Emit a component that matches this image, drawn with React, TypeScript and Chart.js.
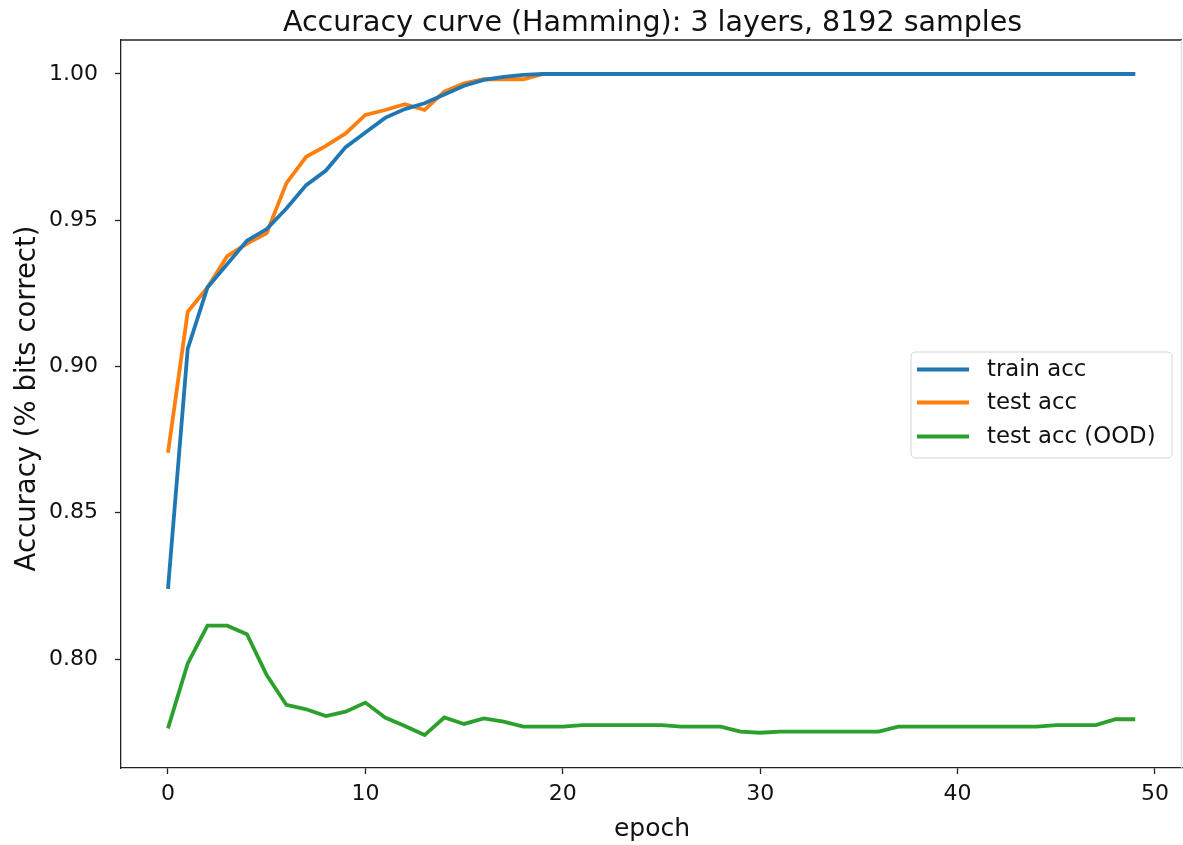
import React, { useEffect, useRef } from "react";
import { Chart, registerables } from "chart.js";

Chart.register(...registerables);

const TITLE = "Accuracy curve (Hamming): 3 layers, 8192 samples";
const X_LABEL = "epoch";
const Y_LABEL = "Accuracy (% bits correct)";

const epochs = [
  0, 1, 2, 3, 4, 5, 6, 7, 8, 9, 10, 11, 12, 13, 14, 15, 16, 17, 18, 19, 20, 21, 22, 23, 24,
  25, 26, 27, 28, 29, 30, 31, 32, 33, 34, 35, 36, 37, 38, 39, 40, 41, 42, 43, 44, 45, 46, 47, 48, 49,
];

const trainAcc = [
  0.824, 0.906, 0.927, 0.935, 0.943, 0.947, 0.954, 0.962, 0.967, 0.975, 0.98, 0.985, 0.988, 0.99,
  0.993, 0.996, 0.998, 0.999, 0.9997, 1.0, 1.0, 1.0, 1.0, 1.0, 1.0, 1.0, 1.0, 1.0, 1.0, 1.0, 1.0,
  1.0, 1.0, 1.0, 1.0, 1.0, 1.0, 1.0, 1.0, 1.0, 1.0, 1.0, 1.0, 1.0, 1.0, 1.0, 1.0, 1.0, 1.0, 1.0,
];

const testAcc = [
  0.8705, 0.9187, 0.927, 0.9377, 0.942, 0.9456, 0.9627, 0.9717, 0.9754, 0.9797, 0.986, 0.9877,
  0.9897, 0.9877, 0.994, 0.9968, 0.9982, 0.9982, 0.9982, 1.0, 1.0, 1.0, 1.0, 1.0, 1.0, 1.0, 1.0,
  1.0, 1.0, 1.0, 1.0, 1.0, 1.0, 1.0, 1.0, 1.0, 1.0, 1.0, 1.0, 1.0, 1.0, 1.0, 1.0, 1.0, 1.0, 1.0,
  1.0, 1.0, 1.0, 1.0,
];

const testAccOOD = [
  0.7763, 0.7985, 0.8114, 0.8114, 0.8085, 0.7945, 0.7843, 0.7828, 0.7805, 0.782, 0.7851, 0.78,
  0.7771, 0.774, 0.78, 0.7778, 0.7797, 0.7786, 0.7769, 0.7769, 0.7769, 0.7774, 0.7774, 0.7774,
  0.7774, 0.7774, 0.7769, 0.7769, 0.7769, 0.7752, 0.7748, 0.7752, 0.7752, 0.7752, 0.7752, 0.7752,
  0.7752, 0.7769, 0.7769, 0.7769, 0.7769, 0.7769, 0.7769, 0.7769, 0.7769, 0.7774, 0.7774, 0.7774,
  0.7794, 0.7794,
];

const seriesNames = ["train acc", "test acc", "test acc (OOD)"];
const seriesColors = ["#1f77b4", "#ff7f0e", "#2ca02c"];

const xTicks = [0, 10, 20, 30, 40, 50];
const yTicks = [0.8, 0.85, 0.9, 0.95, 1.0];

const FONT = "'DejaVu Sans', sans-serif";
const TEXT_COLOR = "#111";

const decorPlugin = {
  id: "decor",
  afterDraw(chart: any) {
    const { ctx, chartArea } = chart;
    const { left, right, top, bottom } = chartArea;
    ctx.save();
    // top & right spines
    ctx.strokeStyle = "#222";
    ctx.lineWidth = 1.3;
    ctx.beginPath();
    ctx.moveTo(left, top);
    ctx.lineTo(right, top);
    ctx.stroke();
    ctx.strokeStyle = "#ddd";
    ctx.beginPath();
    ctx.moveTo(right - 0.5, top);
    ctx.lineTo(right - 0.5, bottom);
    ctx.stroke();

    // title
    ctx.fillStyle = TEXT_COLOR;
    ctx.font = `28.5px ${FONT}`;
    ctx.textAlign = "center";
    ctx.textBaseline = "alphabetic";
    ctx.fillText(TITLE, 652.5, 31);

    // x label
    ctx.font = `25px ${FONT}`;
    ctx.fillText(X_LABEL, (left + right) / 2 + 0.5, 836);

    // y label
    ctx.save();
    ctx.translate(35, 398.5);
    ctx.rotate(-Math.PI / 2);
    ctx.font = `27.5px ${FONT}`;
    ctx.fillText(Y_LABEL, 0, 0);
    ctx.restore();

    // legend
    const bx = 911, by = 352, bw = 261, bh = 106, r = 5;
    ctx.fillStyle = "rgba(255,255,255,0.85)";
    ctx.strokeStyle = "#d6d6d6";
    ctx.lineWidth = 1;
    ctx.beginPath();
    ctx.moveTo(bx + r, by);
    ctx.lineTo(bx + bw - r, by);
    ctx.quadraticCurveTo(bx + bw, by, bx + bw, by + r);
    ctx.lineTo(bx + bw, by + bh - r);
    ctx.quadraticCurveTo(bx + bw, by + bh, bx + bw - r, by + bh);
    ctx.lineTo(bx + r, by + bh);
    ctx.quadraticCurveTo(bx, by + bh, bx, by + bh - r);
    ctx.lineTo(bx, by + r);
    ctx.quadraticCurveTo(bx, by, bx + r, by);
    ctx.closePath();
    ctx.fill();
    ctx.stroke();

    const rows = [369.5, 402.5, 436.5];
    chart.data.datasets.forEach((ds: any, i: number) => {
      ctx.strokeStyle = ds.borderColor;
      ctx.lineWidth = 4;
      ctx.beginPath();
      ctx.moveTo(917, rows[i]);
      ctx.lineTo(969, rows[i]);
      ctx.stroke();
      ctx.fillStyle = TEXT_COLOR;
      ctx.font = `22.8px ${FONT}`;
      ctx.textAlign = "left";
      ctx.textBaseline = "middle";
      ctx.fillText(ds.label, 987, rows[i] + 1);
    });
    ctx.restore();
  },
};

export default function App() {
  const canvasRef = useRef<HTMLCanvasElement | null>(null);

  useEffect(() => {
    const canvas = canvasRef.current;
    if (!canvas) return;
    const series = [trainAcc, testAcc, testAccOOD];
    const chart = new Chart(canvas, {
      type: "line",
      data: {
        datasets: series.map((vals, i) => ({
          label: seriesNames[i],
          data: epochs.map((e, j) => ({ x: e, y: vals[j] })),
          borderColor: seriesColors[i],
          backgroundColor: seriesColors[i],
          borderWidth: 3.8,
          pointRadius: 0,
          tension: 0,
          fill: false,
        })),
      },
      options: {
        responsive: false,
        animation: false,
        layout: { padding: { top: 40, right: 1, left: 0, bottom: 0 } },
        plugins: {
          legend: { display: false },
          title: { display: false },
          tooltip: { enabled: false },
        },
        scales: {
          x: {
            type: "linear",
            min: -2.38,
            max: 51.37,
            afterBuildTicks: (scale: any) => {
              scale.ticks = xTicks.map((v) => ({ value: v }));
            },
            afterFit: (scale: any) => {
              scale.height = 77;
            },
            ticks: {
              color: TEXT_COLOR,
              font: { family: FONT, size: 22 },
              padding: 7,
              maxRotation: 0,
              autoSkip: false,
              callback: (v: any) => String(v),
            },
            grid: {
              display: true,
              drawOnChartArea: false,
              drawTicks: true,
              tickLength: 6,
              tickWidth: 1.3,
              tickColor: "#222",
            },
            border: { display: true, color: "#222", width: 1.3 },
          },
          y: {
            type: "linear",
            min: 0.76274,
            max: 1.01162,
            afterBuildTicks: (scale: any) => {
              scale.ticks = yTicks.map((v) => ({ value: v }));
            },
            afterFit: (scale: any) => {
              scale.width = 121;
            },
            ticks: {
              color: TEXT_COLOR,
              font: { family: FONT, size: 22 },
              padding: 17,
              autoSkip: false,
              callback: (v: any) => Number(v).toFixed(2),
            },
            grid: {
              display: true,
              drawOnChartArea: false,
              drawTicks: true,
              tickLength: 6,
              tickWidth: 1.3,
              tickColor: "#222",
            },
            border: { display: true, color: "#222", width: 1.3 },
          },
        },
      },
      plugins: [decorPlugin],
    });
    return () => chart.destroy();
  }, []);

  return (
    <div style={{ position: "absolute", left: 0, top: 0, width: 1183, height: 845, background: "#fff" }}>
      <canvas ref={canvasRef} width={1183} height={845} style={{ display: "block" }} />
    </div>
  );
}
